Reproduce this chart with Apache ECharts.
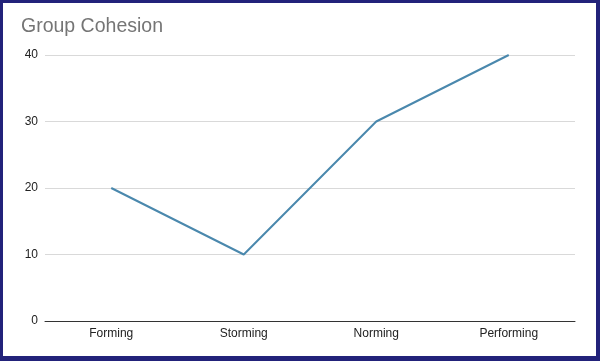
<!DOCTYPE html>
<html>
<head>
<meta charset="utf-8">
<script src="https://cdn.jsdelivr.net/npm/echarts@6/dist/echarts.min.js"></script>
<style>
html,body{margin:0;padding:0;background:#fff;}
#wrap{width:600px;height:361px;box-sizing:border-box;border-style:solid;border-color:#22227a;border-width:3px 4px 5px 3px;background:#fff;}
#chart{width:593px;height:353px;}
</style>
</head>
<body>
<div id="wrap"><div id="chart"></div></div>
<script>
const titleText = "Group Cohesion";
const categories = ["Forming", "Storming", "Norming", "Performing"];
const cohesion = [20, 10, 30, 40];

const chart = echarts.init(document.getElementById('chart'), null, {renderer: 'canvas'});
chart.setOption({
  animation: false,
  title: {
    text: titleText, left: 18, top: 14, padding: 0,
    textStyle: {fontFamily: 'Arial, Liberation Sans, sans-serif', fontSize: 19.5, fontWeight: 'normal', color: '#757575'}
  },
  grid: {left: 42, right: 21, top: 52, bottom: 35, containLabel: false},
  xAxis: {
    type: 'category', data: categories, boundaryGap: true,
    axisLine: {lineStyle: {color: '#333', width: 1}},
    axisTick: {show: false},
    axisLabel: {color: '#222', fontSize: 12, fontFamily: 'Arial, Liberation Sans, sans-serif', margin: 7}
  },
  yAxis: {
    type: 'value', min: 0, max: 40, interval: 10,
    axisLine: {show: false}, axisTick: {show: false},
    splitLine: {lineStyle: {color: '#d9d9d9', width: 1}},
    axisLabel: {color: '#222', fontSize: 12, fontFamily: 'Arial, Liberation Sans, sans-serif', margin: 7}
  },
  series: [{
    type: 'line', data: cohesion, symbol: 'none',
    lineStyle: {color: '#4a88ad', width: 2}
  }]
});
</script>
</body>
</html>
